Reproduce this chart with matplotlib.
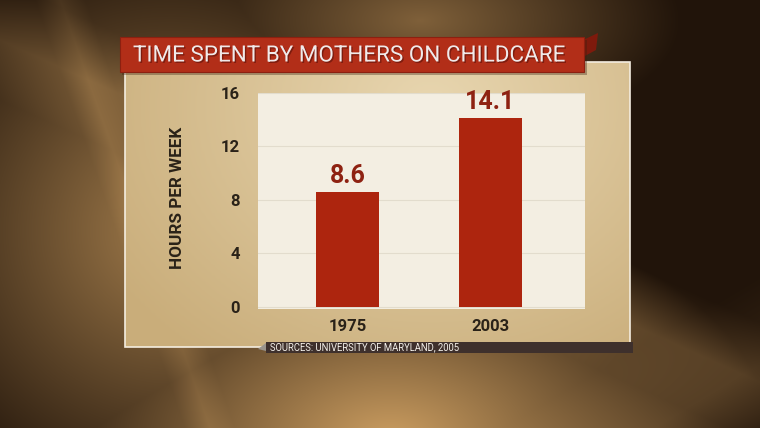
import numpy as np
import matplotlib
matplotlib.use("Agg")
from matplotlib import pyplot as plt
import matplotlib.patches as patches
import matplotlib.patheffects as pe

years = ["1975", "2003"]
hours = [8.6, 14.1]
value_labels = ["8.6", "14.1"]
yticks = [0, 4, 8, 12, 16]
title = "TIME SPENT BY MOTHERS ON CHILDCARE"
ylabel = "HOURS PER WEEK"
source = "SOURCES: UNIVERSITY OF MARYLAND, 2005"

W, H = 760, 428
plt.rcParams['font.family'] = ['Roboto', 'DejaVu Sans']

fig = plt.figure(figsize=(W / 100, H / 100), dpi=100)
renderer = fig.canvas.get_renderer()


def fit_width(txt, target_px, vertical=False):
    # shrink/grow a text so that its long side is target_px wide
    bb = txt.get_window_extent(renderer=renderer)
    size = bb.height if vertical else bb.width
    txt.set_fontsize(txt.get_fontsize() * target_px / size)


# background layer in pixel coordinates
bg = fig.add_axes([0, 0, 1, 1])
bg.set_xlim(0, W)
bg.set_ylim(H, 0)
bg.axis('off')

yy, xx = np.mgrid[0:H, 0:W]
g1 = np.clip(1 - np.sqrt(((xx - 390) / 380.0) ** 2 + ((yy - 440) / 230.0) ** 2), 0, 1)
g2 = np.clip(1 - np.sqrt(((xx - 170) / 300.0) ** 2 + ((yy - 230) / 300.0) ** 2), 0, 1) * 0.75
g3 = np.clip(1 - np.sqrt(((xx - 420) / 260.0) ** 2 + ((yy - 20) / 120.0) ** 2), 0, 1) * 0.55
streak = 0.18 * np.clip(1 - np.abs((xx * 0.45 - yy) + 40) / 60.0, 0, 1)
streak += 0.12 * np.clip(1 - np.abs((xx - yy * 0.35) - 60) / 25.0, 0, 1)
streak += 0.10 * np.clip(1 - np.abs((xx * 0.6 + yy) - 820) / 90.0, 0, 1)
w = np.clip(np.maximum(np.maximum(g1, g2), g3) + streak, 0, 1)[..., None]
dark = np.array([0.13, 0.08, 0.04])
gold = np.array([0.80, 0.62, 0.38])
bg.imshow(dark + (gold - dark) * w, extent=(0, W, H, 0), aspect='auto', zorder=0)

# beige panel
py, px = np.mgrid[0:100, 0:100]
pw = np.clip(1 - np.sqrt(((px - 60) / 75.0) ** 2 + ((py - 15) / 110.0) ** 2), 0, 1)[..., None]
p_dark = np.array([0.79, 0.68, 0.48])
p_light = np.array([0.91, 0.84, 0.69])
bg.imshow(p_dark + (p_light - p_dark) * pw, extent=(125, 630, 347, 62), aspect='auto', zorder=1)
bg.add_patch(patches.Rectangle((125, 62), 505, 285, fill=False, edgecolor='#f4ede0', lw=1.2, zorder=2))

# title banner
bg.add_patch(patches.Polygon([(583, 40), (598, 33), (596, 50), (583, 57)], closed=True,
                             facecolor='#7e1a0c', edgecolor='none', zorder=3))
bg.add_patch(patches.Rectangle((122, 40), 465, 35, facecolor='#3a2010', alpha=0.35, zorder=3))
bg.add_patch(patches.Rectangle((120, 37), 464, 35, facecolor='#b22e18', edgecolor='#8c2010', lw=0.8, zorder=4))
t = bg.text(133, 56, title, color='#f0eaea', fontsize=18, va='center', ha='left', zorder=5,
            fontstretch='condensed',
            path_effects=[pe.withSimplePatchShadow(offset=(1, -1), shadow_rgbFace='#5a1008', alpha=0.6)])
fit_width(t, 432)

# source bar
bg.add_patch(patches.Polygon([(258, 349), (266, 343), (266, 351)], closed=True, facecolor='#9a948c', zorder=3))
bg.add_patch(patches.Rectangle((266, 342), 367, 11, facecolor='#3e302c', edgecolor='none', zorder=4))
t = bg.text(270, 347.5, source, color='#f4f0ea', fontsize=7.5, va='center', ha='left', zorder=5)
fit_width(t, 190)

# main chart
ax = fig.add_axes([258 / W, 1 - 309 / H, 327 / W, 216 / H])
ax.set_facecolor('#f3eee2')
x = np.arange(len(years))
ax.bar(x, hours, width=0.44, color='#ad250e', zorder=3)
for xi, v, lab in zip(x, hours, value_labels):
    ax.text(xi, v + 0.3, lab, ha='center', va='bottom', color='#8e2212', fontsize=18, fontweight='bold')
ax.set_xlim(-0.626, 1.66)
ax.set_ylim(-0.15, 16)
ax.set_yticks(yticks)
ax.set_yticklabels([str(v) for v in yticks], fontsize=12, fontweight='bold', color='#2a2218')
ax.set_xticks(x)
ax.set_xticklabels(years, fontsize=12, fontweight='bold', color='#2a2218')
ax.tick_params(length=0)
ax.tick_params(axis='y', pad=13)
ax.tick_params(axis='x', pad=7)
ax.grid(axis='y', color='#e2dccd', lw=0.8, zorder=0)
for s in ax.spines.values():
    s.set_visible(False)

t = bg.text(177, 198, ylabel, rotation=90, ha='center', va='center', fontsize=13, fontweight='bold',
            color='#2a2218', zorder=5)
fit_width(t, 141, vertical=True)

fig.savefig("out.png", dpi=100)
